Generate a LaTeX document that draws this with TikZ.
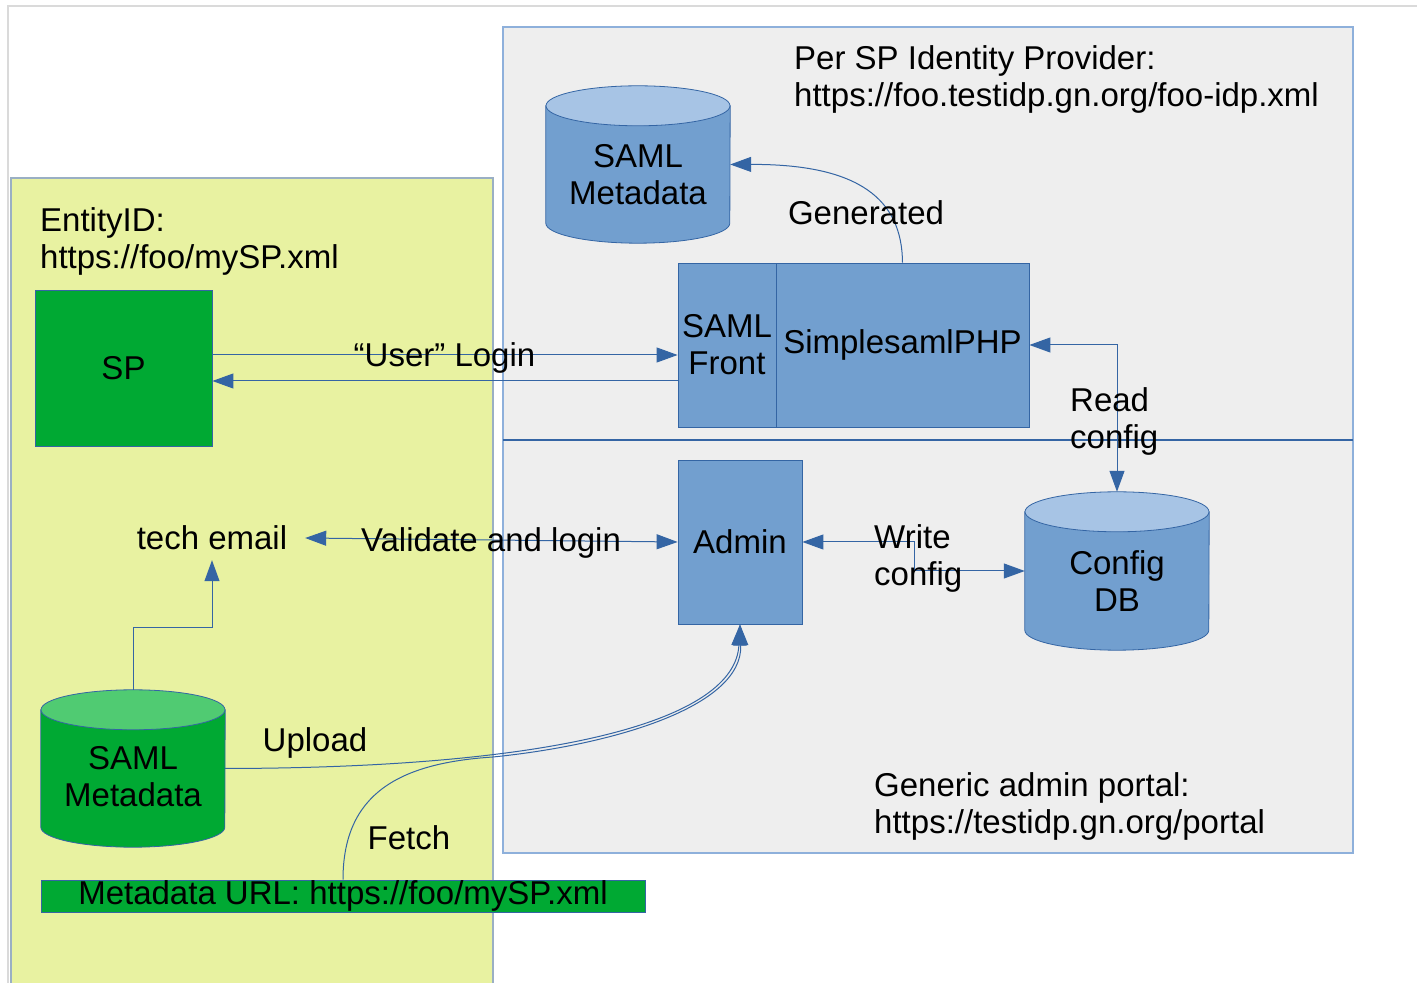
\documentclass[tikz,border=0pt]{standalone}
\usepackage{fontspec}
\setmainfont{Liberation Sans}
\usetikzlibrary{arrows.meta,calc,backgrounds}

\definecolor{linkblue}{HTML}{3465A4}
\definecolor{boxblue}{HTML}{729FCF}
\definecolor{topblue}{HTML}{A7C4E5}
\definecolor{boxgreen}{HTML}{00A933}
\definecolor{topgreen}{HTML}{50CB72}
\definecolor{panelgray}{HTML}{EEEEEE}
\definecolor{panelline}{HTML}{8EB0DB}
\definecolor{panelyellow}{HTML}{E8F2A1}
\definecolor{yellowline}{HTML}{9AAFC4}
\definecolor{frameline}{HTML}{DADADA}

% database cylinder drawn behind a (text-less) rectangular node
\newcommand\cylshape[3]{%
  \path[draw=linkblue, line width=0.8pt, fill=#2]
    ($(#1.north west)+(0,-20)$) -- ($(#1.south west)+(0,20)$)
    arc[start angle=180, end angle=360, x radius=92pt, y radius=20pt]
    -- ($(#1.north east)+(0,-20)$) -- cycle;
  \path[draw=linkblue, line width=0.8pt, fill=#3]
    ($(#1.north)+(0,-20)$) ellipse[x radius=92pt, y radius=20pt];
}

\begin{document}
\begin{tikzpicture}[x=1pt, y=1pt,
  font=\fontsize{33}{37}\selectfont,
  >={Triangle[length=21pt,width=15pt]},
  box/.style={draw=linkblue, line width=0.8pt, fill=boxblue, inner sep=0pt, align=center},
  cylbox/.style={inner sep=0pt},
  txt/.style={inner sep=0pt, align=center},
  conn/.style={draw=linkblue, line width=1pt}]
\useasboundingbox (0,0) rectangle (1417,983);

% ---- boxes and stores ----
\node[box, fill=boxgreen, minimum width=177pt, minimum height=156pt] (sp) at (123.5,615) {SP};
\node[box, minimum width=98pt, minimum height=164pt] (front) at (727,638) {SAML\\Front};
\node[box, minimum width=253pt, minimum height=164pt] (ssp) at (902.5,638) {SimplesamlPHP};
\node[box, minimum width=124pt, minimum height=164pt] (admin) at (740,441) {Admin};
\node[cylbox, minimum width=184pt, minimum height=157pt] (idpmeta) at (638,818.5) {};
\node[cylbox, minimum width=184pt, minimum height=158pt] (configdb) at (1117,412) {};
\node[cylbox, minimum width=184pt, minimum height=157pt] (spmeta) at (133,214.5) {};
\node[box, fill=boxgreen, minimum width=604pt, minimum height=32pt] (mdurl) at (343,87) {Metadata URL: https://foo/mySP.xml};
\node[inner sep=0pt, minimum width=186pt, minimum height=44pt] (tech) at (212,445) {tech email};

\node[txt] (idpmetatext) at (638,808.5) {SAML\\Metadata};
\node[txt] (configdbtext) at (1117,402) {Config\\DB};
\node[txt] (spmetatext) at (133,206) {SAML\\Metadata};

% ---- panels, frame and cylinder bodies ----
\begin{scope}[on background layer]
  \draw[frameline, line width=1.5pt] (1417,977) -- (8,977) -- (8,0);
  \fill[panelyellow] (11,0) rectangle (493,805);
  \draw[yellowline, line width=1.2pt] (11,0) -- (11,805) -- (493,805) -- (493,0);
  \filldraw[fill=panelgray, draw=panelline, line width=1.5pt] (503,130) rectangle (1353,956);
  \draw[linkblue, line width=1.2pt] (503,543) -- (1353,543);
  \cylshape{idpmeta}{boxblue}{topblue}
  \cylshape{configdb}{boxblue}{topblue}
  \cylshape{spmeta}{boxgreen}{topgreen}
\end{scope}

% ---- connectors ----
\coordinate (ulogin) at (0,628);
\coordinate (uback) at (0,602);
\draw[conn,->] (sp.east |- ulogin) -- (front.west |- ulogin);
\draw[conn,->] (front.west |- uback) -- (sp.east |- uback);
\draw[conn,<->] (ssp.east) -| (configdb.north);
\draw[conn,<->] (admin.east) -- ++(112,0) |- (configdb.west);
\draw[conn,<->] (tech.east) -- (admin.west);
\draw[conn,->] (spmeta.north) -- ++(0,62) -| (tech.south);
\draw[conn,->] (spmeta.east) .. controls (560,215) and (735,263) .. (admin.south);
\draw[conn,->] (mdurl.north) .. controls (343,190) and (400,220) .. (493,226)
  .. controls (612,238) and (743,276) .. (admin.south);
\draw[conn,->] (ssp.north) .. controls (902,783) and (860,819) .. (idpmeta.east);

% ---- labels ----
\node[txt] (lblgen) at (866,770) {Generated};
\node[txt] (lbluser) at (444.5,625) {“User” Login};
\node[txt, anchor=west, align=left] (lblread) at (1070,562) {Read\\config};
\node[txt, anchor=west, align=left] (lblwrite) at (874,425) {Write\\config};
\node[txt] (lblval) at (491,440) {Validate and login};
\node[txt] (lblup) at (315,240) {Upload};
\node[txt] (lblfetch) at (409,145) {Fetch};
\node[txt, anchor=west, align=left] (entity) at (40,741.5) {EntityID:\\https://foo/mySP.xml};
\node[txt, anchor=west, align=left] (idptitle) at (794,903.5) {Per SP Identity Provider:\\https://foo.testidp.gn.org/foo-idp.xml};
\node[txt, anchor=west, align=left] (portal) at (874,177) {Generic admin portal:\\https://testidp.gn.org/portal};
\end{tikzpicture}
\end{document}
